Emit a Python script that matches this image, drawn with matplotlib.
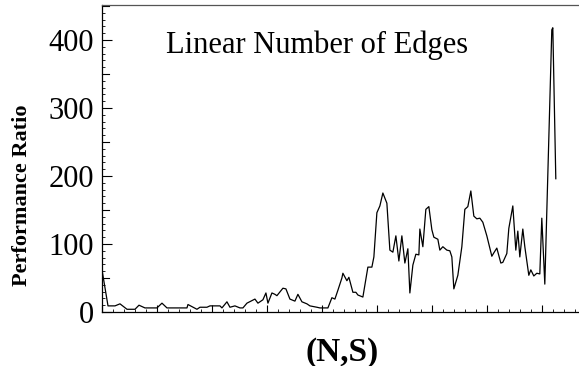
import matplotlib
matplotlib.use("Agg")
import matplotlib.pyplot as plt
from matplotlib.ticker import MultipleLocator

plt.rcParams['font.family'] = ['Liberation Serif', 'DejaVu Serif']

# positions along the (N,S) axis and the performance ratio
pos = [0, 6, 13, 18, 25, 33, 37, 43, 55, 60, 65, 85, 86, 95, 98, 105, 108, 118,
       120, 125, 128, 133, 138, 141, 145, 153, 156, 161, 164, 166, 170, 173, 175,
       181, 184, 188, 193, 196, 200, 205, 208, 215, 218, 226, 230, 233, 236, 240,
       241, 245, 247, 251, 254, 256, 261, 266, 270, 272, 275, 278, 281, 285, 288,
       291, 294, 297, 300, 303, 306, 308, 311, 314, 317, 318, 321, 324, 327, 330,
       332, 336, 338, 341, 345, 348, 350, 352, 356, 360, 363, 366, 369, 372, 375,
       378, 381, 385, 390, 392, 395, 399, 401, 405, 407, 411, 414, 416, 418, 421,
       423, 427, 429, 432, 435, 438, 440, 443, 450, 451, 454]
ratio = [62, 9, 9, 12, 4, 4, 10, 6, 6, 13, 6, 6, 11, 4, 7, 7, 9, 9,
         6, 15, 7, 9, 6, 6, 13, 19, 13, 18, 28, 13, 28, 26, 24,
         35, 34, 19, 16, 26, 15, 12, 9, 7, 6, 6, 21, 19, 32, 50,
         57, 46, 51, 29, 29, 25, 22, 66, 66, 81, 146, 156, 175, 160, 91,
         88, 112, 75, 112, 72, 93, 28, 69, 85, 84, 122, 96, 151, 155, 121,
         110, 107, 91, 96, 91, 90, 81, 34, 54, 96, 151, 155, 178, 141, 137,
         138, 132, 112, 82, 87, 94, 72, 73, 86, 123, 156, 91, 119, 81, 122,
         96, 54, 62, 53, 57, 56, 138, 41, 415, 418, 196]

W, H = 579, 366
fig = plt.figure(figsize=(W / 100, H / 100), dpi=100)
ax = fig.add_axes([102 / W, 54 / H, (W - 102) / W + 0.01, 307 / H])

ax.plot(pos, ratio, color='black', lw=0.9)

ax.set_xlim(0, 483)
ax.set_ylim(0, 451.5)
ax.spines['right'].set_visible(False)
ax.spines['top'].set_color('#555555')
for s in ax.spines.values():
    s.set_linewidth(0.9)

ax.yaxis.set_major_locator(MultipleLocator(100))
ax.yaxis.set_minor_locator(MultipleLocator(10))
ax.xaxis.set_major_locator(MultipleLocator(55))
ax.xaxis.set_minor_locator(MultipleLocator(11))
ax.tick_params(which='both', direction='in', top=False, right=False)
ax.tick_params(which='major', length=7, width=0.8)
ax.tick_params(which='minor', length=2.5, width=0.6)
ax.tick_params(axis='x', which='major', length=5)
ax.tick_params(axis='y', labelsize=22, pad=6)
ax.tick_params(axis='x', labelbottom=False)
# medium ticks at the 50s
for v in range(50, 451, 100):
    ax.plot([0, 7 / 477 * 483], [v, v], color='black', lw=0.8, clip_on=False)

ax.text(0.132, 0.87, 'Linear Number of Edges', transform=ax.transAxes,
        fontsize=22, ha='left', va='center')

fig.text(22 / W, 1 - 195 / H, 'Performance Ratio', rotation=90, fontsize=16,
         fontweight='bold', ha='center', va='center')
fig.text(342 / W, 1 - 352 / H, '(N,S)', fontsize=24, fontweight='bold',
         ha='center', va='center')

fig.savefig('out.png', dpi=100)
